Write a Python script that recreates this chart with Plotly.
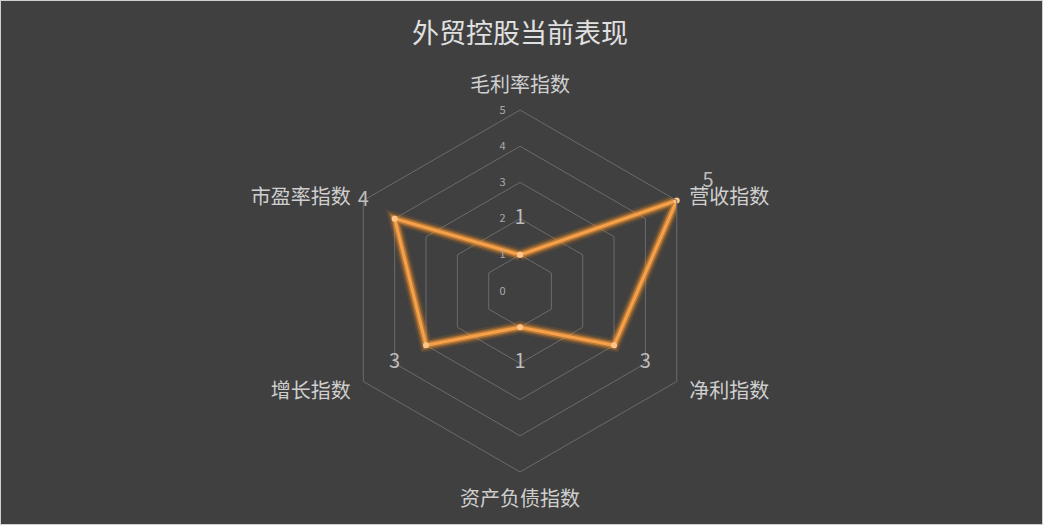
import plotly.graph_objects as go

categories = ["毛利率指数", "营收指数", "净利指数", "资产负债指数", "增长指数", "市盈率指数"]
values = [1, 5, 3, 1, 3, 4]
radial_ticks = [0, 1, 2, 3, 4, 5]
radial_max = 5

title_text = "外贸控股当前表现"
font_family = "Noto Sans CJK SC, Microsoft YaHei, sans-serif"

# nudge the side labels toward the horizontal (empty line on the outer side)
label_text = [categories[0], "<br>" + categories[1], categories[2] + "<br>",
              categories[3], categories[4] + "<br>", "<br>" + categories[5]]

# close the polygon
theta = categories + categories[:1]
r = values + values[:1]

fig = go.Figure()

# glow under the line
for w, c in [(13, "rgba(255,140,20,0.12)"), (9, "rgba(255,150,40,0.25)"), (6, "rgba(255,160,60,0.45)")]:
    fig.add_trace(go.Scatterpolar(
        r=r, theta=theta, mode="lines",
        line=dict(color=c, width=w),
        hoverinfo="skip", showlegend=False
    ))

fig.add_trace(go.Scatterpolar(
    r=r, theta=theta, mode="lines+markers",
    line=dict(color="#f7a04a", width=3),
    marker=dict(color="#ffc58a", size=6),
    name="外贸控股", showlegend=False
))

# value labels sit one unit further out than the point; drawn on an overlaid
# polar with range 0..6 and the same px-per-unit scale
fig.add_trace(go.Scatterpolar(
    r=[v + 1 for v in values], theta=categories, mode="text",
    text=[str(v) for v in values],
    textfont=dict(size=20, color="#bdbdbd", family=font_family),
    subplot="polar2", hoverinfo="skip", showlegend=False
))

cx, cy = 0.4986, 0.4457
half_w, half_h = 0.1735, 0.3448
k = (radial_max + 1) / radial_max

fig.update_layout(
    width=1043, height=525,
    paper_bgcolor="#404040",
    plot_bgcolor="#404040",
    margin=dict(l=0, r=0, t=0, b=0),
    font=dict(family=font_family, color="#cccccc"),
    title=dict(text=title_text, x=0.4986, xanchor="center", y=0.937, yanchor="middle",
               font=dict(size=27, color="#e0e0e0")),
    polar=dict(
        bgcolor="#404040",
        domain=dict(x=[cx - half_w, cx + half_w], y=[cy - half_h, cy + half_h]),
        gridshape="linear",
        radialaxis=dict(
            range=[0, radial_max], tickvals=radial_ticks, angle=90, tickangle=90,
            side="counterclockwise",
            showline=False, gridcolor="#6b6b6b", gridwidth=1,
            ticks="outside", ticklen=10, tickcolor="rgba(0,0,0,0)",
            tickfont=dict(size=11, color="#aaaaaa"),
        ),
        angularaxis=dict(
            direction="clockwise", rotation=90,
            tickvals=categories, ticktext=label_text,
            showgrid=False, showline=True, linecolor="#6b6b6b",
            ticks="outside", ticklen=10, tickcolor="rgba(0,0,0,0)",
            tickfont=dict(size=20, color="#cfcfcf"),
        ),
    ),
    polar2=dict(
        bgcolor="rgba(0,0,0,0)",
        domain=dict(x=[cx - half_w * k, cx + half_w * k], y=[cy - half_h * k, cy + half_h * k]),
        gridshape="linear",
        radialaxis=dict(range=[0, radial_max + 1], visible=False),
        angularaxis=dict(direction="clockwise", rotation=90, categoryarray=categories,
                         visible=False),
    ),
    shapes=[dict(type="rect", xref="paper", yref="paper", x0=0, x1=1, y0=0, y1=1,
                 line=dict(color="#d0d0d0", width=2))],
)

fig.write_html("out.html", config={"displayModeBar": False},
               post_script="document.body.style.margin='0px';")
